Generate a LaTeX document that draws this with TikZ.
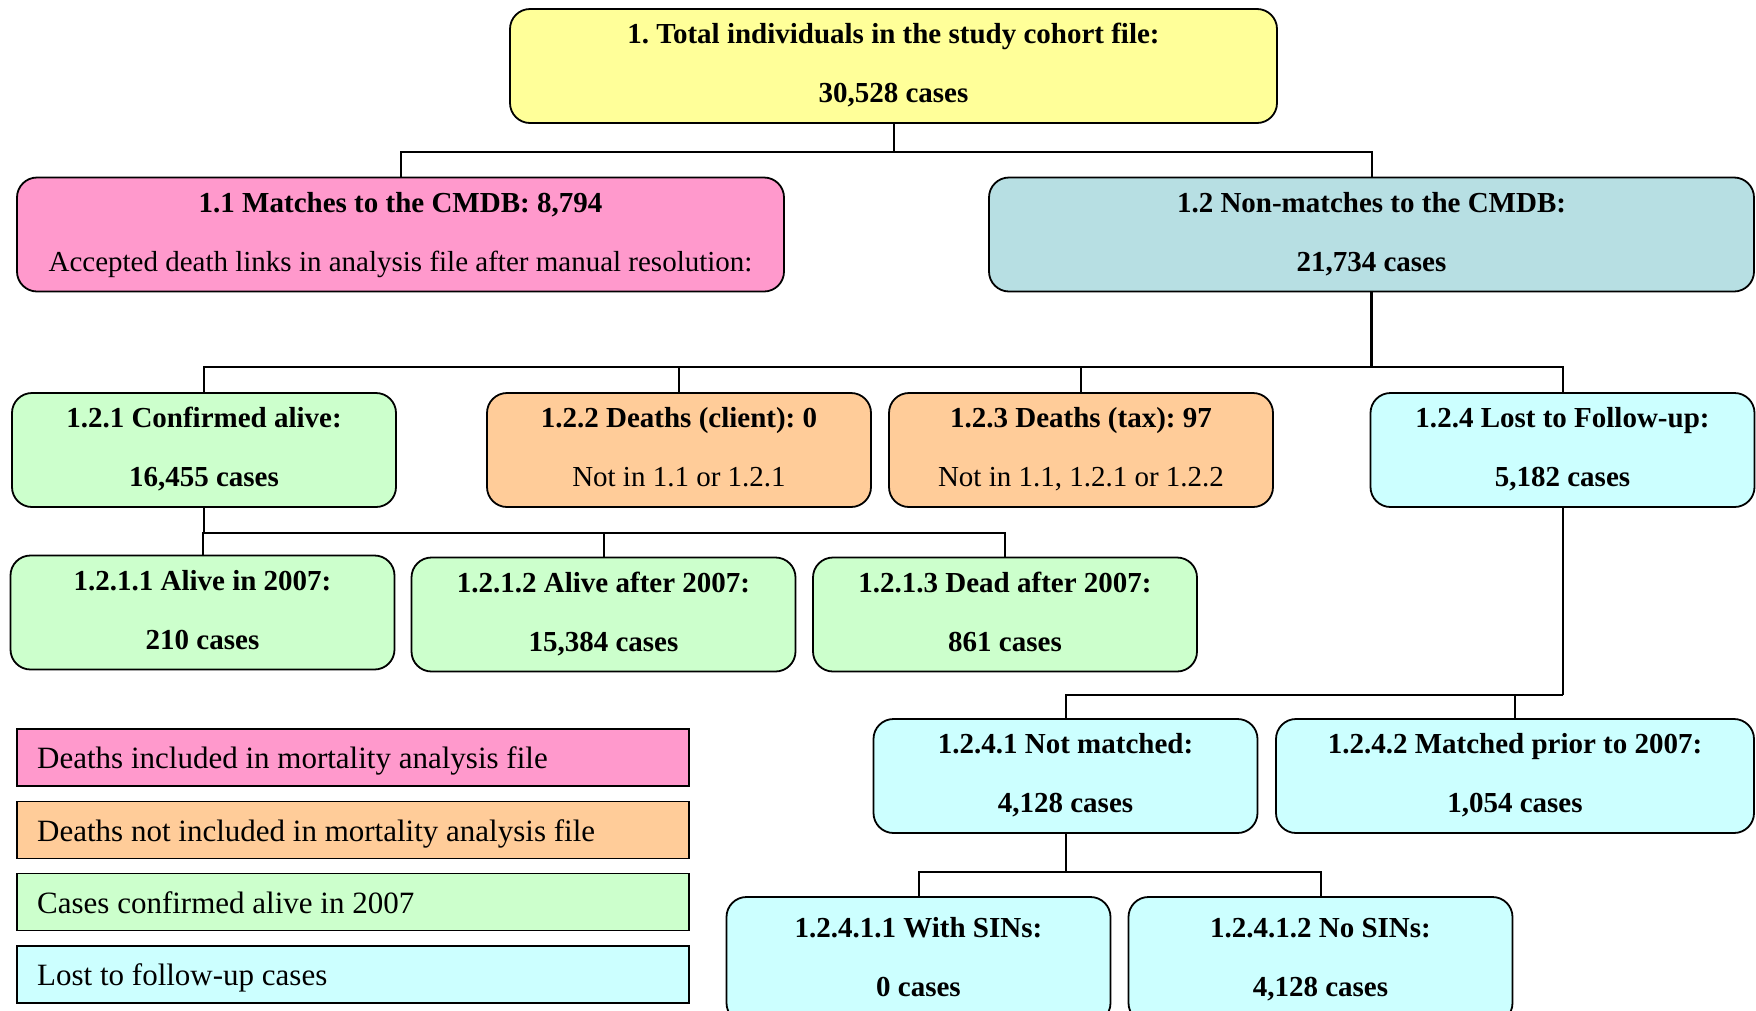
\documentclass[tikz,border=0pt]{standalone}
\usepackage{fontspec}
\setmainfont{Liberation Serif}
\frenchspacing
\definecolor{cyellow}{HTML}{FFFF99}
\definecolor{cpink}{HTML}{FF99CC}
\definecolor{cgray}{HTML}{B7DFE3}
\definecolor{corange}{HTML}{FFCC99}
\definecolor{cgreen}{HTML}{CCFFCC}
\definecolor{ccyan}{HTML}{CCFFFF}
\newcommand{\twol}[2]{\strut#1\\[24pt]\strut#2}
\begin{document}
\begin{tikzpicture}[x=1pt,y=-1pt,
  box/.style={draw=black, line width=1.8pt, rounded corners=20pt, minimum height=114pt,
    minimum width=384pt, align=center, inner sep=0pt, font=\fontsize{29}{35}\selectfont},
  bbox/.style={box, font=\fontsize{29}{35}\selectfont\bfseries},
  legbox/.style={draw=black, line width=1.8pt, minimum width=672pt, minimum height=57pt, inner sep=0pt},
  legtext/.style={anchor=west, inner sep=0pt, font=\fontsize{31}{36}\selectfont},
  conn/.style={draw=black, line width=2pt},
  thickconn/.style={draw=black, line width=3pt}]
\useasboundingbox (0,0) rectangle (1756,1010);

% boxes
\node[bbox, fill=cyellow, minimum width=767pt] (top) at (893.5,66)
  {\twol{1. Total individuals in the study cohort file:}{30,528 cases}};
\node[box, fill=cpink, minimum width=767pt] (b11) at (400.5,234.5)
  {\twol{\textbf{1.1 Matches to the CMDB: 8,794}}{Accepted death links in analysis file after manual resolution:}};
\node[bbox, fill=cgray, minimum width=765pt] (b12) at (1371.5,234.5)
  {\twol{1.2 Non-matches to the CMDB:}{21,734 cases}};

\node[bbox, fill=cgreen] (b121) at (204,450) {\twol{1.2.1 Confirmed alive:}{16,455 cases}};
\node[box, fill=corange] (b122) at (679,450) {\twol{\textbf{1.2.2 Deaths (client): 0}}{Not in 1.1 or 1.2.1}};
\node[box, fill=corange] (b123) at (1081,450) {\twol{\textbf{1.2.3 Deaths (tax): 97}}{Not in 1.1, 1.2.1 or 1.2.2}};
\node[bbox, fill=ccyan] (b124) at (1562.5,450) {\twol{1.2.4 Lost to Follow-up:}{5,182 cases}};

\node[bbox, fill=cgreen] (b1211) at (202.5,612.5) {\twol{1.2.1.1 Alive in 2007:}{210 cases}};
\node[bbox, fill=cgreen] (b1212) at (603.5,614.5) {\twol{1.2.1.2 Alive after 2007:}{15,384 cases}};
\node[bbox, fill=cgreen] (b1213) at (1005,614.5) {\twol{1.2.1.3 Dead after 2007:}{861 cases}};

\node[bbox, fill=ccyan] (b1241) at (1065.5,776) {\twol{1.2.4.1 Not matched:}{4,128 cases}};
\node[bbox, fill=ccyan, minimum width=478pt] (b1242) at (1515,776) {\twol{1.2.4.2 Matched prior to 2007:}{1,054 cases}};

\node[bbox, fill=ccyan, minimum height=126pt] (b12411) at (918.5,960) {\twol{1.2.4.1.1 With SINs:}{0 cases}};
\node[bbox, fill=ccyan, minimum height=126pt] (b12412) at (1320.5,960) {\twol{1.2.4.1.2 No SINs:}{4,128 cases}};

% connectors
\coordinate (j0) at (893.5,152);
\draw[conn] (top.south) -- (j0);
\draw[conn] (b11.north) |- (j0) -| (b12.north);

\coordinate (j1) at (1371.5,367);
\draw[thickconn] (b12.south) -- (j1);
\draw[conn] (b121.north) |- (j1) -| (b124.north);
\draw[conn] (b122.north) -- (b122.north |- j1);
\draw[conn] (b123.north) -- (b123.north |- j1);

\coordinate (j2) at (204,533);
\draw[conn] (b121.south) -- (j2);
\draw[conn] (b1211.north) |- (j2) -| (b1213.north);
\draw[conn] (b1212.north) -- (b1212.north |- j2);

\coordinate (j3) at (1562.5,695);
\draw[conn] (b124.south) -- (j3);
\draw[conn] (b1241.north) |- (j3);
\draw[conn] (b1242.north) -- (b1242.north |- j3);

\coordinate (j4) at (1065.5,872);
\draw[conn] (b1241.south) -- (j4);
\draw[conn] (b12411.north) |- (j4) -| (b12412.north);

% legend
\node[legbox, fill=cpink] (l1) at (353,757.5) {};
\node[legbox, fill=corange] (l2) at (353,830) {};
\node[legbox, fill=cgreen] (l3) at (353,902) {};
\node[legbox, fill=ccyan] (l4) at (353,974.5) {};
\node[legtext] (t1) at (37,761.5) {\strut Deaths included in mortality analysis file};
\node[legtext] (t2) at (37,834) {\strut Deaths not included in mortality analysis file};
\node[legtext] (t3) at (37,906) {\strut Cases confirmed alive in 2007};
\node[legtext] (t4) at (37,978.5) {\strut Lost to follow-up cases};
\end{tikzpicture}
\end{document}
